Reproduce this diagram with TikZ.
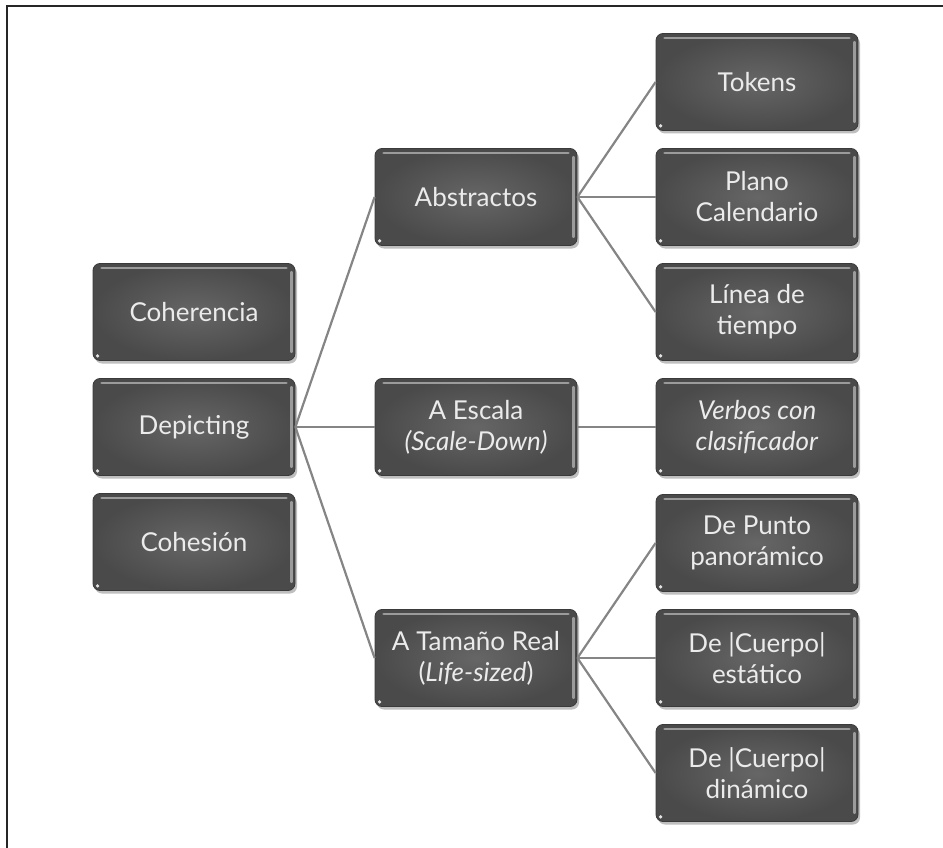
\documentclass[tikz,border=0pt]{standalone}
\usepackage{fontspec}
\setmainfont{Lato}
\usetikzlibrary{shadows}
\definecolor{boxdark}{HTML}{4A4A4A}
\definecolor{boxlight}{HTML}{666666}
\definecolor{boxline}{HTML}{3A3A3A}
\definecolor{txt}{HTML}{EBEBEB}
\definecolor{link}{HTML}{858585}
\definecolor{framec}{HTML}{262626}
\tikzset{
  box/.style={rounded corners=7pt, minimum width=202pt, minimum height=97pt,
    inner sep=2pt, inner color=boxlight, outer color=boxdark, draw=boxline,
    line width=0.8pt, text=txt, align=center,
    font=\fontsize{26}{31}\selectfont,
    drop shadow={shadow xshift=2pt, shadow yshift=-3pt, opacity=0.25, fill=black}},
  link/.style={draw=link, line width=2.2pt},
  shine/.style={draw=white, opacity=0.45, line width=2.5pt, line cap=round},
  dot/.style={fill=white, opacity=0.85}
}
\begin{document}
\begin{tikzpicture}[x=1pt, y=-1pt]
  \useasboundingbox (0,0) rectangle (943,848);
  % frame on top and left
  \draw[framec, line width=2.6pt] (7,848) -- (7,6) -- (943,6);

  % first column
  \node[box] (coh)  at (194,312) {Coherencia};
  \node[box] (dep)  at (194,427) {Depicting};
  \node[box] (cohs) at (194,542) {Cohesión};
  % second column
  \node[box] (abs)  at (476,197) {Abstractos};
  \node[box] (esc)  at (476,427) {A Escala\\\textit{(Scale-Down)}};
  \node[box] (tam)  at (476,658) {A Tamaño Real\\(\textit{Life-sized})};
  % third column
  \node[box] (tok)  at (757,82)  {Tokens};
  \node[box] (pla)  at (757,197) {Plano\\Calendario};
  \node[box] (lin)  at (757,312) {Línea de\\tiempo};
  \node[box] (ver)  at (757,427) {\textit{Verbos con}\\\textit{clasificador}};
  \node[box] (pun)  at (757,543) {De Punto\\panorámico};
  \node[box] (est)  at (757,658) {De |Cuerpo|\\estático};
  \node[box] (din)  at (757,773) {De |Cuerpo|\\dinámico};

  % glossy highlights on each box
  \foreach \n in {coh,dep,cohs,abs,esc,tam,tok,pla,lin,ver,pun,est,din}{
    \draw[shine] ([xshift=9pt,yshift=-5pt]\n.north west) -- ([xshift=-9pt,yshift=-5pt]\n.north east);
    \draw[shine] ([xshift=-4pt,yshift=-9pt]\n.north east) -- ([xshift=-4pt,yshift=9pt]\n.south east);
    \fill[dot] ([xshift=5pt,yshift=5pt]\n.south west) circle (1.8pt);
  }

  % connectors
  \foreach \t in {abs,esc,tam}{ \draw[link] (dep.east) -- (\t.west); }
  \foreach \t in {tok,pla,lin}{ \draw[link] (abs.east) -- (\t.west); }
  \draw[link] (esc.east) -- (ver.west);
  \foreach \t in {pun,est,din}{ \draw[link] (tam.east) -- (\t.west); }
\end{tikzpicture}
\end{document}
